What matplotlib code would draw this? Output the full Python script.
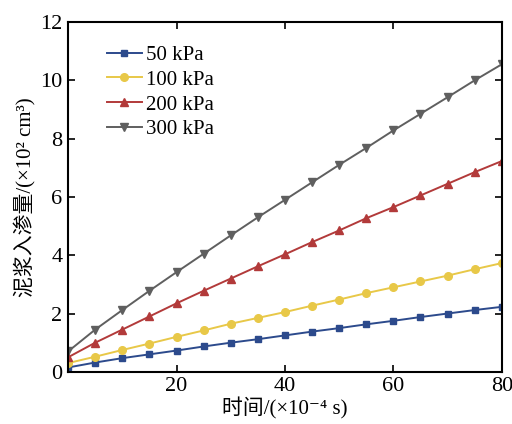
import matplotlib.pyplot as plt

plt.rcParams['font.family'] = ['Liberation Serif', 'Noto Sans CJK SC', 'DejaVu Serif']

time = [0, 5, 10, 15, 20, 25, 30, 35, 40, 45, 50, 55, 60, 65, 70, 75, 80]
kpa50 = [0.15, 0.32, 0.47, 0.6, 0.73, 0.87, 1.0, 1.12, 1.25, 1.38, 1.5, 1.63, 1.75, 1.88, 2.0, 2.12, 2.23]
kpa100 = [0.3, 0.52, 0.75, 0.97, 1.2, 1.42, 1.65, 1.85, 2.05, 2.27, 2.48, 2.7, 2.9, 3.1, 3.3, 3.52, 3.73]
kpa200 = [0.5, 1.0, 1.45, 1.9, 2.35, 2.78, 3.2, 3.62, 4.03, 4.45, 4.85, 5.27, 5.65, 6.05, 6.45, 6.85, 7.23]
kpa300 = [0.7, 1.45, 2.12, 2.78, 3.42, 4.05, 4.68, 5.3, 5.9, 6.5, 7.1, 7.68, 8.28, 8.85, 9.42, 10.0, 10.55]

fig = plt.figure(figsize=(5.12, 4.24), dpi=100)
ax = fig.add_axes([0.133, 0.123, 0.847, 0.825])

ax.plot(time, kpa50, color='#2c4a8c', marker='s', ms=5, lw=1.4, label='50 kPa')
ax.plot(time, kpa100, color='#e8c848', marker='o', ms=5.5, lw=1.4, label='100 kPa')
ax.plot(time, kpa200, color='#b23a3a', marker='^', ms=6, lw=1.4, label='200 kPa')
ax.plot(time, kpa300, color='#5f5f5f', marker='v', ms=6, lw=1.4, label='300 kPa')

ax.set_xlim(0, 80)
ax.set_ylim(0, 12)
ax.set_xticks([20, 40, 60, 80])
ax.set_yticks([0, 2, 4, 6, 8, 10, 12])
ax.tick_params(direction='in', top=True, right=True, labelsize=16, length=5, width=1.2, pad=4)
for s in ax.spines.values():
    s.set_linewidth(1.5)

ax.set_xlabel('时间/(×10⁻⁴ s)', fontsize=15, labelpad=1)
ax.set_ylabel('泥浆入渗量/(×10² cm³)', fontsize=15, labelpad=3)

ax.legend(loc='upper left', bbox_to_anchor=(0.055, 0.975), frameon=False, fontsize=15,
          handlelength=1.7, handletextpad=0.2, labelspacing=0.25, borderpad=0.2)

fig.savefig('out.png', dpi=100)
